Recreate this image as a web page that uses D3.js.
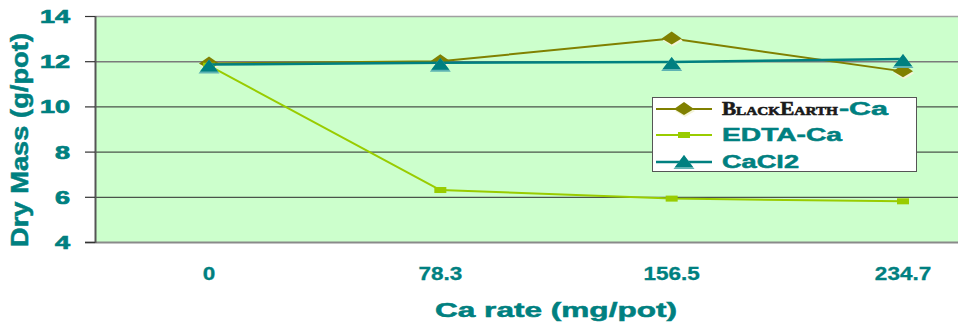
<!DOCTYPE html>
<html><head><meta charset="utf-8">
<script src="https://cdn.jsdelivr.net/npm/d3@7"></script>
<style>html,body{margin:0;padding:0;background:#fff;overflow:hidden}svg{display:block}</style>
</head><body>
<script>
const categories = ["0", "78.3", "156.5", "234.7"];
const blackEarth = [11.9, 12.0, 13.0, 11.55];
const edta = [11.8, 6.3, 5.92, 5.8];
const cacl2 = [11.85, 11.93, 11.97, 12.1];
const yTicks = [4, 6, 8, 10, 12, 14];
const seriesNames = ["BlackEarth-Ca", "EDTA-Ca", "CaCl2"];

const W = 958, H = 324;
const plot = {left: 95, right: 958, top: 16, bottom: 242};
const teal = "#008080", olive = "#808000", lime = "#99CC00";
const font = "'Liberation Sans', Arial, sans-serif";

const svg = d3.select("body").append("svg").attr("width", W).attr("height", H);

const x = d3.scalePoint().domain(categories).range([209, 903]);
const y = d3.scaleLinear().domain([4, 14]).range([plot.bottom, plot.top]);

// plot background
svg.append("rect").attr("x", plot.left).attr("y", plot.top)
  .attr("width", plot.right - plot.left).attr("height", plot.bottom - plot.top)
  .attr("fill", "#CCFFCC");

// gridlines
svg.append("g").selectAll("line").data(yTicks.filter(d => d > 4 && d < 14)).join("line")
  .attr("x1", plot.left).attr("x2", plot.right)
  .attr("y1", d => y(d) + 0.5).attr("y2", d => y(d) + 0.5)
  .attr("stroke", d => d === 12 ? "#7a7a7a" : "#2a2a2a").attr("stroke-width", d => d === 12 ? 1.5 : 1);
// top border
svg.append("line").attr("x1", plot.left).attr("x2", plot.right).attr("y1", plot.top + 0.5).attr("y2", plot.top + 0.5)
  .attr("stroke", "#a0a0a0").attr("stroke-width", 1.5);
// bottom axis
svg.append("line").attr("x1", 85).attr("x2", plot.right).attr("y1", plot.bottom + 0.5).attr("y2", plot.bottom + 0.5)
  .attr("stroke", "#8a8a8a").attr("stroke-width", 2);
// left axis
svg.append("line").attr("x1", plot.left + 0.5).attr("x2", plot.left + 0.5).attr("y1", plot.top).attr("y2", plot.bottom + 1)
  .attr("stroke", "#555").attr("stroke-width", 2);
// ticks
svg.append("g").selectAll("line").data(yTicks).join("line")
  .attr("x1", 85).attr("x2", plot.left).attr("y1", d => y(d) + 0.5).attr("y2", d => y(d) + 0.5)
  .attr("stroke", "#333").attr("stroke-width", 1.2);

// y tick labels
svg.append("g").selectAll("text").data(yTicks).join("text")
  .attr("transform", d => `translate(70,${y(d) + 7}) scale(1.5,1)`)
  .attr("text-anchor", "end").attr("font-family", font).attr("font-weight", "bold")
  .attr("font-size", 18).attr("fill", teal).attr("stroke", teal).attr("stroke-width", 0.7).text(d => d);

// x tick labels
svg.append("g").selectAll("text").data(categories).join("text")
  .attr("transform", d => `translate(${x(d)},280) scale(1.25,1)`)
  .attr("text-anchor", "middle").attr("font-family", font).attr("font-weight", "bold")
  .attr("font-size", 18).attr("fill", teal).attr("stroke", teal).attr("stroke-width", 0.3).text(d => d);

// axis titles
svg.append("text").attr("transform", "translate(28,140) rotate(-90)")
  .attr("text-anchor", "middle").attr("font-family", font).attr("font-weight", "bold")
  .attr("font-size", 23).attr("fill", teal).attr("stroke", teal).attr("stroke-width", 0.5)
  .attr("textLength", 214).attr("lengthAdjust", "spacingAndGlyphs")
  .text("Dry Mass (g/pot)");
svg.append("text").attr("x", 435).attr("y", 317)
  .attr("font-family", font).attr("font-weight", "bold")
  .attr("font-size", 20).attr("fill", teal).attr("stroke", teal).attr("stroke-width", 0.5)
  .attr("textLength", 242).attr("lengthAdjust", "spacingAndGlyphs")
  .text("Ca rate (mg/pot)");

// markers
function diamond(g, cx, cy) {
  g.append("path").attr("d", `M${cx+1},${cy-5} L${cx+11},${cy+2} L${cx+1},${cy+8} L${cx-9},${cy+2}Z`).attr("fill", "#f4f4d8");
  g.append("path").attr("d", `M${cx},${cy-7} L${cx+10},${cy} L${cx},${cy+6} L${cx-10},${cy}Z`).attr("fill", olive);
}
function square(g, cx, cy) {
  g.append("rect").attr("x", cx - 6).attr("y", cy - 3).attr("width", 12).attr("height", 6).attr("fill", lime);
}
function triangle(g, cx, cy) {
  g.append("path").attr("d", `M${cx},${cy-7} L${cx+10.5},${cy+7} L${cx-10.5},${cy+7}Z`).attr("fill", "#5fb3b3");
  g.append("path").attr("d", `M${cx},${cy-7} L${cx+9},${cy+5} L${cx-9},${cy+5}Z`).attr("fill", teal);
}

const line = d3.line().x((d, i) => x(categories[i])).y(d => y(d));
const series = [
  {name: seriesNames[0], vals: blackEarth, color: olive, w: 2, marker: diamond, dy: 0},
  {name: seriesNames[1], vals: edta, color: lime, w: 2, marker: square, dy: 0},
  {name: seriesNames[2], vals: cacl2, color: teal, w: 2.5, marker: triangle, dy: 2}
];
series.forEach(s => {
  const g = svg.append("g");
  g.append("path").datum(s.vals).attr("d", line).attr("fill", "none")
    .attr("stroke", s.color).attr("stroke-width", s.w).attr("stroke-linejoin", "round");
  s.vals.forEach((v, i) => s.marker(g, x(categories[i]), y(v) + s.dy));
});

// legend
const lg = svg.append("g");
lg.append("rect").attr("x", 652.5).attr("y", 97.5).attr("width", 264).attr("height", 74)
  .attr("fill", "#fff").attr("stroke", "#555").attr("stroke-width", 1);
const rows = [109, 135, 162];
series.forEach((s, i) => {
  lg.append("line").attr("x1", 656).attr("x2", 712).attr("y1", rows[i]).attr("y2", rows[i])
    .attr("stroke", s.color).attr("stroke-width", s.w);
  s.marker(lg, 684, rows[i]);
});
// BlackEarth-Ca label
const t0 = lg.append("text").attr("x", 722).attr("y", 115).attr("font-weight", "bold");
const be = t0.append("tspan").attr("font-family", "'Liberation Serif', 'DejaVu Serif', serif")
  .attr("fill", "#1a1a1a").attr("stroke", "#1a1a1a").attr("stroke-width", 0.6);
[["B", 18], ["LACK", 13], ["E", 18], ["ARTH", 13]].forEach(([t, fs]) => be.append("tspan").attr("font-size", fs).text(t));
t0.attr("textLength", 116).attr("lengthAdjust", "spacingAndGlyphs");
lg.append("text").attr("x", 839).attr("y", 115).attr("font-family", font).attr("font-weight", "bold")
  .attr("font-size", 18).attr("fill", teal).attr("stroke", teal).attr("stroke-width", 0.5)
  .attr("textLength", 49).attr("lengthAdjust", "spacingAndGlyphs").text("-Ca");
lg.append("text").attr("x", 722).attr("y", 141).attr("font-family", font).attr("font-weight", "bold")
  .attr("font-size", 18).attr("fill", teal).attr("stroke", teal).attr("stroke-width", 0.5)
  .attr("textLength", 120).attr("lengthAdjust", "spacingAndGlyphs").text("EDTA-Ca");
lg.append("text").attr("x", 722).attr("y", 168).attr("font-family", font).attr("font-weight", "bold")
  .attr("font-size", 18).attr("fill", teal).attr("stroke", teal).attr("stroke-width", 0.5)
  .attr("textLength", 77).attr("lengthAdjust", "spacingAndGlyphs").text("CaCl2");
</script>
</body></html>
